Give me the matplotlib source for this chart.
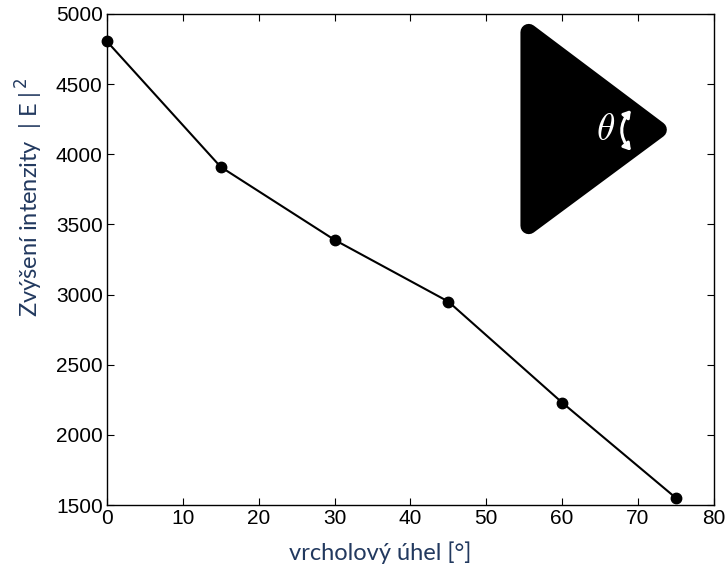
import matplotlib
matplotlib.use('Agg')
import matplotlib.pyplot as plt
from matplotlib.patches import Polygon, FancyArrowPatch

# data
angle = [0, 15, 30, 45, 60, 75]
intensity = [4805, 3910, 3390, 2950, 2230, 1550]
xticks = [0, 10, 20, 30, 40, 50, 60, 70, 80]
yticks = [1500, 2000, 2500, 3000, 3500, 4000, 4500, 5000]

label_color = '#22395f'

fig = plt.figure(figsize=(7.27, 5.75), dpi=100)
ax = fig.add_axes([0.147, 0.1217, 0.835, 0.854])

ax.plot(angle, intensity, '-', color='black', lw=1.5, zorder=3)
ax.plot(angle, intensity, 'o', color='black', ms=7.5, zorder=4, clip_on=False)

ax.set_xlim(0, 80)
ax.set_ylim(1500, 5000)
ax.set_xticks(xticks)
ax.set_yticks(yticks)
ax.tick_params(direction='in', top=True, right=True, length=5, width=0.8,
               labelsize=15, pad=3)
for lab in ax.get_xticklabels() + ax.get_yticklabels():
    lab.set_family('Liberation Sans')
for s in ax.spines.values():
    s.set_linewidth(1.0)

ax.set_xlabel('vrcholový úhel [°]', fontsize=17, color=label_color,
              family='Lato', va='center')
ax.xaxis.set_label_coords(0.451, -0.098)
ax.set_ylabel('Zvýšení intenzity  | E |$^{\\,2}$', fontsize=17, color=label_color,
              family='Lato', va='center')
ax.yaxis.set_label_coords(-0.127, 0.627)

# inset: black rounded triangle with the apex angle
tri = Polygon([[55.6, 4870], [55.6, 3490], [72.7, 4175]], closed=True,
              facecolor='black', edgecolor='black', lw=12, joinstyle='round',
              zorder=2)
ax.add_patch(tri)
ax.text(65.7, 4170, r'$\mathit{\theta}$', color='white', fontsize=27,
        ha='center', va='center', zorder=5, math_fontfamily='cm')
arr = FancyArrowPatch((69.3, 4330), (69.3, 4010), connectionstyle='arc3,rad=0.45',
                      arrowstyle='<|-|>,head_length=4,head_width=2.5',
                      color='white', lw=2.2, zorder=5)
ax.add_patch(arr)

fig.savefig('out.png', dpi=100)
